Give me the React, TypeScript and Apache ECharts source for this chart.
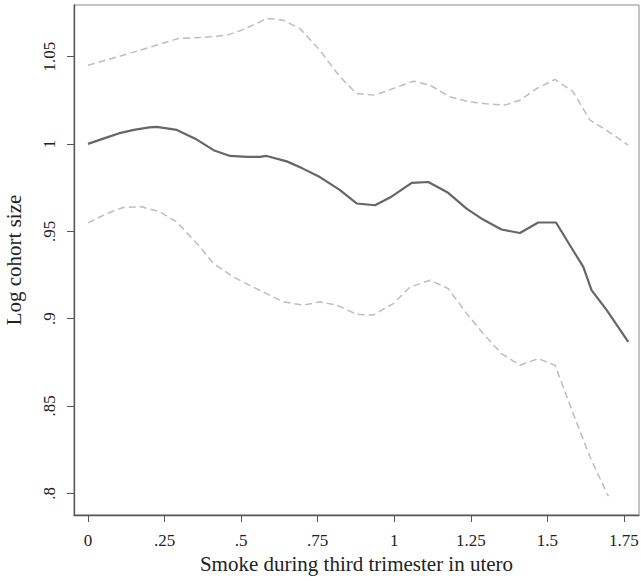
import React, { useEffect, useRef } from "react";
import * as echarts from "echarts";

// Tick positions and labels
const xTickValues = [0, 0.25, 0.5, 0.75, 1, 1.25, 1.5, 1.75];
const xTickLabels = ["0", ".25", ".5", ".75", "1", "1.25", "1.5", "1.75"];
const yTickValues = [0.8, 0.85, 0.9, 0.95, 1, 1.05];
const yTickLabels = [".8", ".85", ".9", ".95", "1", "1.05"];

// Estimate (solid line): [smoke, log cohort size]
const estimate: [number, number][] = [
  [0, 1.0], [0.05, 1.003], [0.1, 1.006], [0.15, 1.008], [0.2, 1.0095], [0.224, 1.0097],
  [0.29, 1.008], [0.35, 1.003], [0.41, 0.9964], [0.464, 0.9931], [0.52, 0.9926], [0.56, 0.9926],
  [0.583, 0.9931], [0.649, 0.99], [0.7, 0.986], [0.757, 0.981], [0.823, 0.9735], [0.877, 0.9659],
  [0.937, 0.9649], [0.986, 0.9693], [1.057, 0.9777], [1.111, 0.9782], [1.176, 0.972], [1.236, 0.963],
  [1.29, 0.9567], [1.35, 0.951], [1.41, 0.949], [1.47, 0.955], [1.528, 0.955], [1.584, 0.939],
  [1.617, 0.9296], [1.644, 0.9163], [1.693, 0.905], [1.764, 0.8867],
];

// Upper confidence band (dashed)
const upper: [number, number][] = [
  [0, 1.045], [0.08, 1.049], [0.17, 1.0536], [0.295, 1.0603], [0.38, 1.061], [0.453, 1.0622],
  [0.5, 1.065], [0.562, 1.0698], [0.583, 1.0718], [0.638, 1.0708], [0.692, 1.066], [0.757, 1.0536],
  [0.823, 1.0383], [0.877, 1.0288], [0.937, 1.0279], [0.997, 1.0317], [1.062, 1.0359], [1.117, 1.0336],
  [1.182, 1.0269], [1.247, 1.024], [1.3, 1.023], [1.361, 1.0222], [1.41, 1.025], [1.465, 1.0317],
  [1.525, 1.0369], [1.584, 1.0298], [1.639, 1.0136], [1.693, 1.0078], [1.764, 0.9993],
];

// Lower confidence band (dashed)
const lower: [number, number][] = [
  [0, 0.9548], [0.06, 0.96], [0.115, 0.9636], [0.175, 0.964], [0.235, 0.9611], [0.29, 0.9553],
  [0.366, 0.941], [0.41, 0.9315], [0.474, 0.9239], [0.54, 0.918], [0.638, 0.9096], [0.703, 0.9077],
  [0.757, 0.9096], [0.812, 0.9077], [0.877, 0.9025], [0.931, 0.902], [0.997, 0.9086], [1.051, 0.918],
  [1.117, 0.922], [1.176, 0.9172], [1.236, 0.903], [1.29, 0.8915], [1.35, 0.88], [1.41, 0.8733],
  [1.47, 0.8771], [1.525, 0.8733], [1.584, 0.8457], [1.639, 0.8208], [1.699, 0.7983],
];

const xName = "Smoke during third trimester in utero";
const yName = "Log cohort size";

const FONT = "'Liberation Serif', 'DejaVu Serif', serif";

function labelFor(values: number[], labels: string[]) {
  return (v: number) => {
    const i = values.findIndex((t) => Math.abs(t - v) < 1e-6);
    return i >= 0 ? labels[i] : "";
  };
}

export default function App() {
  const ref = useRef<HTMLDivElement>(null);
  useEffect(() => {
    if (!ref.current) return;
    const chart = echarts.init(ref.current, undefined, { renderer: "svg" });
    const axisColor = "#555";
    chart.setOption({
      animation: false,
      backgroundColor: "#fff",
      grid: {
        left: 74,
        right: 2,
        top: 5,
        bottom: 66,
        show: true,
        borderColor: "#8a8a8a",
        borderWidth: 1,
        containLabel: false,
        outerBoundsMode: "none",
      },
      xAxis: {
        type: "value",
        min: -0.0457,
        max: 1.799,
        name: xName,
        nameLocation: "middle",
        nameGap: 37,
        nameTextStyle: { fontFamily: FONT, fontSize: 21, color: "#222" },
        axisLine: { show: true, onZero: false, lineStyle: { color: axisColor, width: 1.3 } },
        axisTick: { show: true, length: 7, inside: false, customValues: xTickValues, lineStyle: { color: axisColor, width: 1 } },
        axisLabel: {
          customValues: xTickValues,
          formatter: labelFor(xTickValues, xTickLabels),
          fontFamily: FONT,
          fontSize: 17,
          color: "#222",
          margin: 17,
        },
        splitLine: { show: false },
      },
      yAxis: {
        type: "value",
        min: 0.7876,
        max: 1.0795,
        name: yName,
        nameLocation: "middle",
        nameGap: 50,
        nameRotate: 90,
        nameTextStyle: { fontFamily: FONT, fontSize: 21, color: "#222" },
        axisLine: { show: true, onZero: false, lineStyle: { color: axisColor, width: 1.3 } },
        axisTick: { show: true, length: 7, inside: false, customValues: yTickValues, lineStyle: { color: axisColor, width: 1 } },
        axisLabel: {
          customValues: yTickValues,
          formatter: labelFor(yTickValues, yTickLabels),
          rotate: 90,
          fontFamily: FONT,
          fontSize: 17,
          color: "#222",
          margin: 16,
        },
        splitLine: { show: false },
      },
      series: [
        {
          type: "line",
          data: upper,
          showSymbol: false,
          lineStyle: { color: "#bdbdbd", width: 1.5, type: [7, 4] },
          z: 2,
        },
        {
          type: "line",
          data: lower,
          showSymbol: false,
          lineStyle: { color: "#bdbdbd", width: 1.5, type: [7, 4] },
          z: 2,
        },
        {
          type: "line",
          data: estimate,
          showSymbol: false,
          lineStyle: { color: "#666666", width: 2.2 },
          z: 3,
        },
      ],
    });
    return () => chart.dispose();
  }, []);
  return (
    <div
      ref={ref}
      style={{ position: "fixed", left: 0, top: 0, width: 641, height: 581, background: "#fff" }}
    />
  );
}
